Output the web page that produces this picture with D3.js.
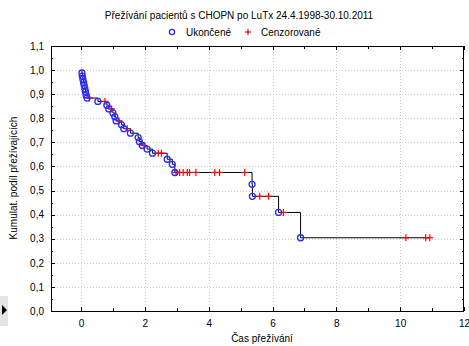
<!DOCTYPE html>
<html><head><meta charset="utf-8">
<script src="https://cdn.jsdelivr.net/npm/d3@7"></script>
<style>
html,body{margin:0;padding:0;background:#fff;}
svg{display:block;font-family:"Liberation Sans",Arial,sans-serif;}
</style></head>
<body><svg id="c" width="469" height="346"></svg>
<script>
const titleText = "Přežívání pacientů s CHOPN po LuTx 24.4.1998-30.10.2011";
const legendLabels = ["Ukončené", "Cenzorované"];
const xLabel = "Čas přežívání";
const yLabel = "Kumulat. podíl přežívajících";
const xTicks = [0, 2, 4, 6, 8, 10, 12];
const yTicks = [0.0, 0.1, 0.2, 0.3, 0.4, 0.5, 0.6, 0.7, 0.8, 0.9, 1.0, 1.1];

// completed (death) events: time and survival after the event
const deathTimes = [0.03, 0.04, 0.06, 0.08, 0.10, 0.12, 0.14, 0.16, 0.19, 0.53, 0.81, 0.87, 1.00, 1.06, 1.10, 1.27, 1.34, 1.55, 1.79, 1.83, 1.92, 2.07, 2.24, 2.70, 2.86, 2.94, 5.36, 5.37, 6.19, 6.88];
const deathSurv  = [0.988, 0.975, 0.962, 0.949, 0.936, 0.923, 0.910, 0.897, 0.884, 0.870, 0.854, 0.839, 0.822, 0.806, 0.789, 0.773, 0.757, 0.738, 0.720, 0.703, 0.687, 0.672, 0.655, 0.630, 0.609, 0.575, 0.526, 0.476, 0.409, 0.304];
// censored times
const censorTimes = [0.26, 0.75, 0.96, 1.19, 1.45, 1.97, 2.42, 2.52, 2.98, 3.09, 3.20, 3.33, 3.40, 3.60, 4.19, 4.34, 5.13, 5.60, 5.88, 6.34, 10.18, 10.80, 10.93];

const svg = d3.select("#c");
const L = 51, R = 464, T = 46, B = 311;
const x = d3.scaleLinear().domain([-0.94, 12]).range([L, R]);
const y = d3.scaleLinear().domain([0, 1.1]).range([B, T]);

// grid
const grid = svg.append("g");
grid.selectAll("line.gx").data(xTicks.filter(d => d > -0.9 && d < 12)).join("line")
  .attr("x1", d => Math.round(x(d)) + 0.5).attr("x2", d => Math.round(x(d)) + 0.5)
  .attr("y1", T).attr("y2", B)
  .attr("stroke", "#c8c8c8").attr("stroke-dasharray", "1,2");
grid.selectAll("line.gy").data(yTicks.filter(d => d > 0 && d < 1.1)).join("line")
  .attr("y1", d => Math.round(y(d)) + 0.5).attr("y2", d => Math.round(y(d)) + 0.5)
  .attr("x1", L).attr("x2", R)
  .attr("stroke", "#c8c8c8").attr("stroke-dasharray", "1,2");

// axes (inward ticks)
const fmt = d => d3.format(".1f")(d).replace(".", ",");
const gx = svg.append("g").attr("transform", `translate(0,${B})`)
  .call(d3.axisBottom(x).tickValues(xTicks).tickSize(0).tickPadding(9).tickFormat(d3.format("d")));
gx.select(".domain").remove();
const gy = svg.append("g").attr("transform", `translate(${L},0)`)
  .call(d3.axisLeft(y).tickValues(yTicks).tickSize(0).tickPadding(7).tickFormat(fmt));
gy.select(".domain").remove();
svg.selectAll(".tick text").attr("font-size", 10).attr("fill", "#000")
  .attr("font-family", "Liberation Sans, Arial, sans-serif");

// tick marks inside frame
const xMajor = d3.range(0, 12.01, 1);
const yMinor = d3.range(0, 1.101, 0.05);
const tk = svg.append("g").attr("stroke", "#000").attr("stroke-width", 1);
xMajor.forEach(v => {
  const px = Math.round(x(v)) + 0.5, len = (v % 2 === 0) ? 4 : 3;
  tk.append("line").attr("x1", px).attr("x2", px).attr("y1", B).attr("y2", B - len);
  tk.append("line").attr("x1", px).attr("x2", px).attr("y1", T).attr("y2", T + len);
});
yMinor.forEach(v => {
  const py = Math.round(y(v)) + 0.5, len = (Math.round(v * 100) % 10 === 0) ? 4 : 2;
  tk.append("line").attr("y1", py).attr("y2", py).attr("x1", L).attr("x2", L + len);
  tk.append("line").attr("y1", py).attr("y2", py).attr("x1", R).attr("x2", R - len);
});

// frame
svg.append("rect").attr("x", L + 0.5).attr("y", T + 0.5).attr("width", R - L - 1).attr("height", B - T)
  .attr("fill", "none").attr("stroke", "#000");

// survival step curve
function survAt(t) {
  let s = 1;
  for (let i = 0; i < deathTimes.length; i++) if (deathTimes[i] <= t) s = deathSurv[i];
  return s;
}
const pts = [[0, 1]];
deathTimes.forEach((t, i) => pts.push([t, deathSurv[i]]));
const tEnd = d3.max(censorTimes.concat(deathTimes));
pts.push([tEnd, survAt(tEnd)]);
svg.append("path").datum(pts)
  .attr("d", d3.line().x(d => x(d[0])).y(d => y(d[1])).curve(d3.curveStepAfter))
  .attr("fill", "none").attr("stroke", "#000").attr("stroke-width", 1);

// censored markers
const cz = svg.append("g").attr("stroke", "#ff0000").attr("stroke-width", 1.2);
censorTimes.forEach(t => {
  const cx = x(t), cy = y(survAt(t));
  cz.append("line").attr("x1", cx - 3.5).attr("x2", cx + 3.5).attr("y1", cy).attr("y2", cy);
  cz.append("line").attr("x1", cx).attr("x2", cx).attr("y1", cy - 3.5).attr("y2", cy + 3.5);
});

// death markers
svg.append("g").selectAll("circle").data(deathTimes).join("circle")
  .attr("cx", d => x(d)).attr("cy", (d, i) => y(deathSurv[i])).attr("r", 3)
  .attr("fill", "none").attr("stroke", "#2a2aff").attr("stroke-width", 1.3);

// title & legend
svg.append("text").attr("x", 239).attr("y", 19).attr("text-anchor", "middle")
  .attr("font-size", 10).text(titleText);
svg.append("circle").attr("cx", 172).attr("cy", 32).attr("r", 2.6)
  .attr("fill", "none").attr("stroke", "#2a2aff").attr("stroke-width", 1.3);
svg.append("text").attr("x", 186).attr("y", 35.5).attr("font-size", 10).text(legendLabels[0]);
const lg = svg.append("g").attr("stroke", "#ff0000").attr("stroke-width", 1.2);
lg.append("line").attr("x1", 245).attr("x2", 251).attr("y1", 32).attr("y2", 32);
lg.append("line").attr("x1", 248).attr("x2", 248).attr("y1", 29).attr("y2", 35);
svg.append("text").attr("x", 261).attr("y", 35.5).attr("font-size", 10).text(legendLabels[1]);

// axis titles
svg.append("text").attr("x", 262).attr("y", 342).attr("text-anchor", "middle")
  .attr("font-size", 10).text(xLabel);
svg.append("text").attr("transform", "translate(17,178) rotate(-90)").attr("text-anchor", "middle")
  .attr("font-size", 10).text(yLabel);

// small side widget at left edge
svg.append("rect").attr("x", 0).attr("y", 296).attr("width", 8).attr("height", 30).attr("fill", "#e4e4e4");
svg.append("path").attr("d", "M2,305 L7,310 L2,315 Z").attr("fill", "#000");
</script></body></html>
